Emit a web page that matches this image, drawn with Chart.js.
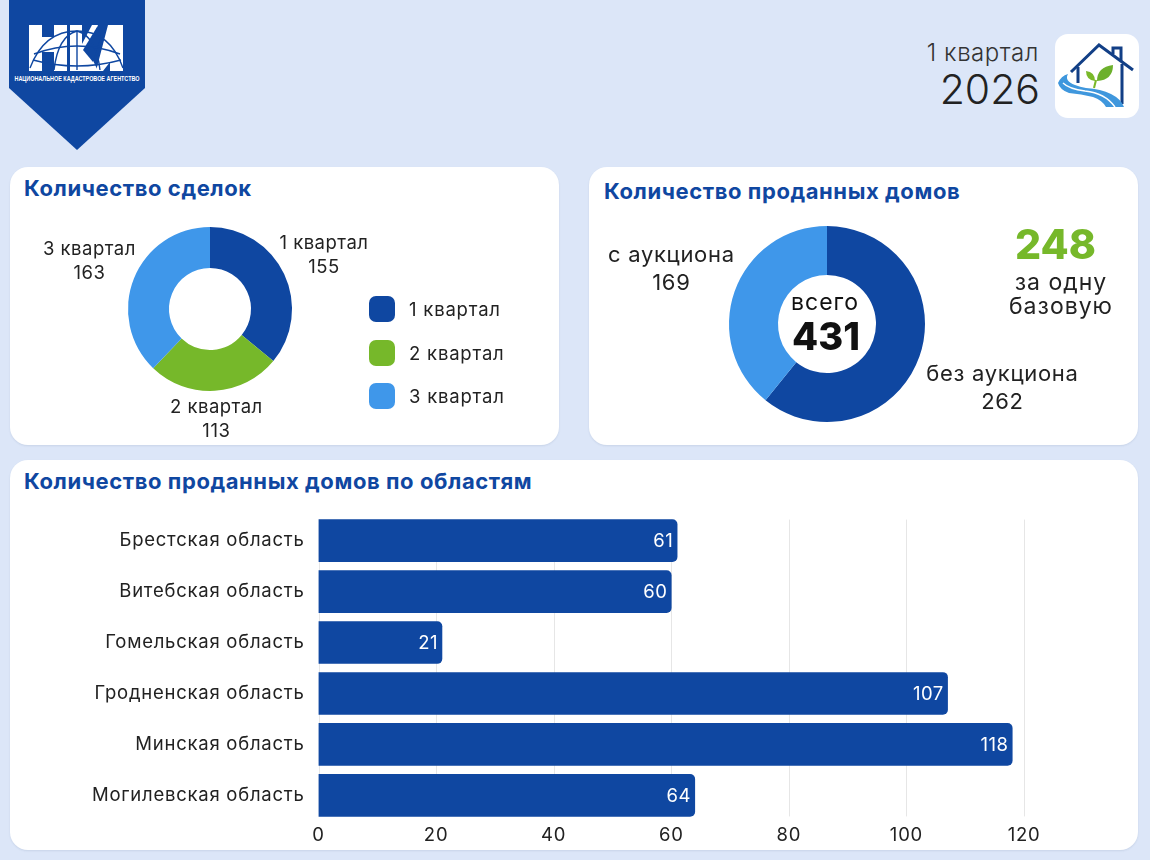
<!DOCTYPE html>
<html lang="ru">
<head>
<meta charset="utf-8">
<title>Продажа домов, 1 квартал 2026</title>
<script src="https://cdn.jsdelivr.net/npm/chart.js@4/dist/chart.umd.min.js"></script>
<style>
  html, body { margin: 0; padding: 0; }
  body { width: 1150px; height: 860px; background: #dce6f8; position: relative; overflow: hidden;
         font-family: Inter, "Noto Sans", sans-serif; color: #222; }
  .card { position: absolute; background: #fff; border-radius: 18px; box-shadow: 0 1px 2px rgba(60,80,120,.12); }
  .title { position: absolute; color: #0f47a1; font-weight: 700; font-size: 22px; letter-spacing: .58px; white-space: nowrap; }
  .abs { position: absolute; white-space: nowrap; }
  canvas { position: absolute; }
  .legend-row { position: absolute; left: 369px; height: 26px; font-size: 18.5px; letter-spacing: .8px; line-height: 26px; padding-left: 40px; white-space: nowrap; }
  .legend-row i { position: absolute; left: 0; top: 0; width: 26px; height: 26px; border-radius: 7px; }
</style>
</head>
<body>

<svg class="abs" style="left:0;top:0" width="150" height="155" viewBox="0 0 150 155">
  <polygon points="9,0 145,0 145,88 77,150 9,88" fill="#0f47a1"/>
  <g fill="#fff">
    <rect x="29" y="25" width="13" height="46"/><rect x="42" y="37" width="13" height="15"/><rect x="54" y="25" width="13" height="46"/>
    <rect x="70" y="25" width="12" height="46"/>
    <polygon points="82,44 92,25 98,25 88,50 98,71 82,71"/>
    <polygon points="96,71 108,25 123,25 123,71 110,71 110,62 103,71"/>
  </g>
  <polygon points="97,27 83,50 93,62 101,36" fill="#0f47a1"/>
  <g fill="none" stroke="#0f47a1" stroke-width="1.4">
    <path d="M30 68 Q44 31 77 31 Q110 31 123 68"/>
    <path d="M34 54 Q77 38 120 54"/>
    <path d="M33 60 Q77 72 121 60"/>
    <path d="M54 70 Q58 36 77 31 Q96 36 100 70"/>
    <path d="M77 31 V70"/>
  </g>
  <text x="77" y="81" text-anchor="middle" fill="#fff" font-size="6.6" font-weight="700" font-family="'Liberation Sans Narrow','Liberation Sans',sans-serif" textLength="125" lengthAdjust="spacingAndGlyphs">НАЦИОНАЛЬНОЕ КАДАСТРОВОЕ АГЕНТСТВО</text>
</svg>

<div class="abs" style="right:111px;top:38px;font-size:24px;letter-spacing:.55px;color:#333;font-weight:300">1 квартал</div>
<div class="abs" style="right:110px;top:64px;font-size:41px;color:#222;font-weight:300">2026</div>
<svg class="abs" style="left:1055px;top:34px" width="84" height="84" viewBox="0 0 84 84">
  <rect width="84" height="84" rx="13" fill="#fff"/>
  <path d="M16 38 L44 11 L78 36" fill="none" stroke="#123f86" stroke-width="3"/>
  <path d="M58 20 V14 H66 V27" fill="none" stroke="#123f86" stroke-width="3"/>
  <path d="M23 33 V49 M67 30 V70" fill="none" stroke="#123f86" stroke-width="3"/>
  <path d="M40 47 Q40 38 31 37 Q31 46 40 47 Z" fill="#7ab929"/>
  <path d="M42 47 Q42 33 58 31 Q58 46 42 47 Z" fill="#6cb02c"/>
  <path d="M41 46 L39 54" fill="none" stroke="#7ab929" stroke-width="2"/>
  <path d="M3 49 Q6 42 13 40 Q9 47 20 51 Q25 53 31 54 Q46 55 56 60 Q66 65 69 73 L51 73 Q47 66 38 63 Q26 60 14 59 Q5 56 3 49 Z" fill="#3f97dd"/>
  <path d="M8 49 Q14 55 30 57 Q50 59 60 73" fill="none" stroke="#fff" stroke-width="1.4"/>
</svg>

<div class="card" style="left:10px;top:167px;width:549px;height:278px"></div>
<div class="card" style="left:589px;top:167px;width:549px;height:278px"></div>
<div class="card" style="left:10px;top:460px;width:1128px;height:390px"></div>

<div class="title" style="left:24px;top:175px">Количество сделок</div>
<div class="title" style="left:604px;top:178px">Количество проданных домов</div>
<div class="title" style="left:24px;top:468px">Количество проданных домов по областям</div>

<canvas id="dealsChart" style="left:10px;top:167px"></canvas>
<canvas id="housesChart" style="left:589px;top:167px"></canvas>
<canvas id="regionChart" style="left:10px;top:490px"></canvas>

<div id="dealsLegend"></div>

<div class="abs" style="left:1015px;top:219px;font-size:41px;font-weight:800;color:#76b82a;width:80px;text-align:center">248</div>
<div class="abs" style="left:991px;top:270px;width:140px;text-align:center;font-size:23px;letter-spacing:1px;line-height:24px;white-space:normal">за одну базовую</div>

<script>
const FONT = 'Inter, "Noto Sans", sans-serif';
const BLUE = '#0f47a1', GREEN = '#76b82a', SKY = '#3f97ea', INK = '#222';

// Количество сделок
const dealLabels = ['1 квартал', '2 квартал', '3 квартал'];
const dealValues = [155, 113, 163];
const dealColors = [BLUE, GREEN, SKY];

// Количество проданных домов
const houseLabels = ['без аукциона', 'с аукциона'];
const houseValues = [262, 169];
const houseColors = [BLUE, SKY];
const houseTotal = 431;

// По областям
const regions = ['Брестская область', 'Витебская область', 'Гомельская область', 'Гродненская область', 'Минская область', 'Могилевская область'];
const regionValues = [61, 60, 21, 107, 118, 64];
const regionTicks = [0, 20, 40, 60, 80, 100, 120];

Chart.defaults.font.family = FONT;
Chart.defaults.color = INK;
Chart.defaults.animation = false;
Chart.defaults.devicePixelRatio = 1;

// межбуквенный интервал для широкого шрифта
const tracking = {
  id: 'tracking',
  beforeDraw(chart, args, opts) { chart.ctx.letterSpacing = opts.px + 'px'; }
};

// подписи секторов снаружи кольца
const sliceLabels = {
  id: 'sliceLabels',
  afterDatasetsDraw(chart, args, opts) {
    const ctx = chart.ctx;
    const arcs = chart.getDatasetMeta(0).data;
    ctx.save();
    ctx.textAlign = 'center';
    ctx.textBaseline = 'middle';
    ctx.fillStyle = INK;
    ctx.font = opts.size + 'px ' + FONT;
    arcs.forEach((arc, i) => {
      const mid = (arc.startAngle + arc.endAngle) / 2;
      const x = arc.x + Math.cos(mid) * opts.dist[i];
      const y = arc.y + Math.sin(mid) * opts.dist[i] + opts.shift[i];
      ctx.fillText(chart.data.labels[i], x, y - opts.gap);
      ctx.fillText(String(chart.data.datasets[0].data[i]), x, y + opts.gap);
    });
    ctx.restore();
  }
};

// всего в центре кольца
const centerTotal = {
  id: 'centerTotal',
  afterDatasetsDraw(chart, args, opts) {
    if (!opts.value) return;
    const ctx = chart.ctx, arc = chart.getDatasetMeta(0).data[0];
    ctx.save();
    ctx.textAlign = 'center';
    ctx.textBaseline = 'middle';
    ctx.fillStyle = '#111';
    ctx.font = '23px ' + FONT;
    ctx.letterSpacing = '1px';
    ctx.fillText('всего', arc.x - 2, arc.y - 21);
    ctx.font = '800 38px ' + FONT;
    ctx.letterSpacing = '0px';
    ctx.fillText(String(opts.value), arc.x - 1, arc.y + 15);
    ctx.restore();
  }
};

// сетка только в пределах столбцов, значения внутри столбцов
const barGrid = {
  id: 'barGrid',
  beforeDatasetsDraw(chart) {
    const ctx = chart.ctx, bars = chart.getDatasetMeta(0).data;
    const top = bars[0].y - bars[0].height / 2;
    const bottom = bars[bars.length - 1].y + bars[bars.length - 1].height / 2;
    ctx.save();
    ctx.strokeStyle = '#e6e6e6';
    ctx.lineWidth = 1;
    regionTicks.forEach(v => {
      const x = Math.round(chart.scales.x.getPixelForValue(v)) + 0.5;
      ctx.beginPath();
      ctx.moveTo(x, top);
      ctx.lineTo(x, bottom);
      ctx.stroke();
    });
    ctx.restore();
  }
};
const barValues = {
  id: 'barValues',
  afterDatasetsDraw(chart) {
    const ctx = chart.ctx;
    ctx.save();
    ctx.textAlign = 'right';
    ctx.textBaseline = 'middle';
    ctx.fillStyle = '#fff';
    ctx.font = '18.5px ' + FONT;
    ctx.letterSpacing = '0.4px';
    chart.getDatasetMeta(0).data.forEach((bar, i) => {
      ctx.fillText(String(regionValues[i]), bar.x - 4, bar.y + 1);
    });
    ctx.restore();
  }
};

function sizeCanvas(id, w, h) {
  const c = document.getElementById(id);
  c.width = w; c.height = h;
  c.style.width = w + 'px'; c.style.height = h + 'px';
  return c;
}

new Chart(sizeCanvas('dealsChart', 549, 278), {
  type: 'doughnut',
  data: { labels: dealLabels, datasets: [{ data: dealValues, backgroundColor: dealColors, borderWidth: 0 }] },
  options: {
    responsive: false,
    cutout: '50%',
    layout: { padding: { left: 118, right: 267, top: 60, bottom: 54 } },
    plugins: {
      legend: { display: false },
      tooltip: { enabled: false },
      tracking: { px: 0.5 },
      sliceLabels: { size: 18.5, gap: 12, dist: [126, 109, 130], shift: [0, 2, 1] },
      centerTotal: { value: 0 }
    }
  },
  plugins: [tracking, sliceLabels, centerTotal]
});

new Chart(sizeCanvas('housesChart', 549, 278), {
  type: 'doughnut',
  data: { labels: houseLabels, datasets: [{ data: houseValues, backgroundColor: houseColors, borderWidth: 0 }] },
  options: {
    responsive: false,
    cutout: '50%',
    layout: { padding: { left: 140, right: 213, top: 59, bottom: 23 } },
    plugins: {
      legend: { display: false },
      tooltip: { enabled: false },
      tracking: { px: 0.7 },
      sliceLabels: { size: 22, gap: 14, dist: [186, 165], shift: [3, 0] },
      centerTotal: { value: houseTotal }
    }
  },
  plugins: [tracking, sliceLabels, centerTotal]
});

new Chart(sizeCanvas('regionChart', 1128, 356), {
  type: 'bar',
  data: { labels: regions, datasets: [{ data: regionValues, backgroundColor: BLUE, barThickness: 42, borderRadius: { topRight: 5, bottomRight: 5 }, borderSkipped: 'left' }] },
  options: {
    indexAxis: 'y',
    responsive: false,
    layout: { padding: { right: 114, top: 0, left: 0, bottom: 0 } },
    plugins: { legend: { display: false }, tooltip: { enabled: false }, tracking: { px: 0.75 } },
    scales: {
      x: {
        min: 0, max: 120,
        afterBuildTicks(axis) { axis.ticks = regionTicks.map(v => ({ value: v })); },
        afterFit(axis) { axis.height = 25; },
        grid: { display: false, drawTicks: false },
        border: { display: false },
        ticks: { font: { size: 18.5 }, color: INK, padding: 3, maxRotation: 0 }
      },
      y: {
        afterFit(axis) { axis.width = 308.5; },
        grid: { display: false, drawTicks: false },
        border: { display: false },
        ticks: { font: { size: 18.5 }, color: INK, padding: 14 }
      }
    }
  },
  plugins: [tracking, barGrid, barValues]
});

// легенда первого кольца
const legendBox = document.getElementById('dealsLegend');
dealLabels.forEach((name, i) => {
  const row = document.createElement('div');
  row.className = 'legend-row';
  row.style.top = (296 + i * 43.5) + 'px';
  row.innerHTML = '<i style="background:' + dealColors[i] + '"></i>' + name;
  legendBox.appendChild(row);
});
</script>
</body>
</html>
